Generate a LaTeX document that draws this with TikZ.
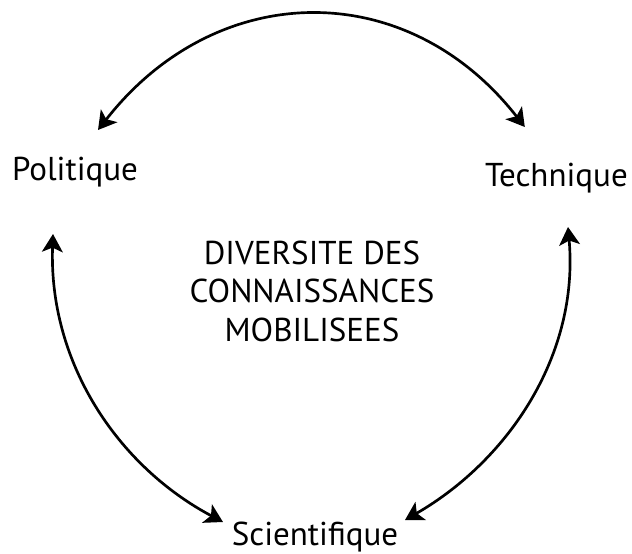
\documentclass[tikz,border=0pt]{standalone}
\usepackage{fontspec}
\setmainfont{PT Sans}
\usepackage{tikz}
\usetikzlibrary{arrows.meta,positioning}

\begin{document}
\begin{tikzpicture}[
    font=\fontsize{23.5}{27.4}\selectfont,
    term/.style={inner sep=0pt, anchor=base},
    core/.style={inner sep=0pt, align=center},
    arrow/.style={{Stealth[length=0.45cm, width=0.52cm, inset=0.11cm]}-{Stealth[length=0.45cm, width=0.52cm, inset=0.11cm]}, line width=1.9pt}
]

    \useasboundingbox (0,0) rectangle (15.8,-13.825);

    \node[term] (politique) at (1.875,-4.5) {Politique};
    \node[term] (technique) at (13.91,-4.65) {Technique};
    \node[term] (scientifique) at (7.875,-13.625) {Scientifique};

    \node[core] (diversite) at (7.8,-7.275) {DIVERSITE DES\\ CONNAISSANCES\\ MOBILISEES};

    \draw[arrow] ([shift={(0.575,1.25)}]politique.base) .. controls +(52:4.8) and +(128:4.8) .. ([shift={(-0.79,1.475)}]technique.base);
    \draw[arrow] ([shift={(-0.55,-1.35)}]politique.base) .. controls +(-92:3.2) and +(152:3.0) .. ([shift={(-2.3,0.575)}]scientifique.base);
    \draw[arrow] ([shift={(0.29,-1.025)}]technique.base) .. controls +(-85:3.2) and +(30:3.0) .. ([shift={(2.25,0.625)}]scientifique.base);

\end{tikzpicture}
\end{document}
